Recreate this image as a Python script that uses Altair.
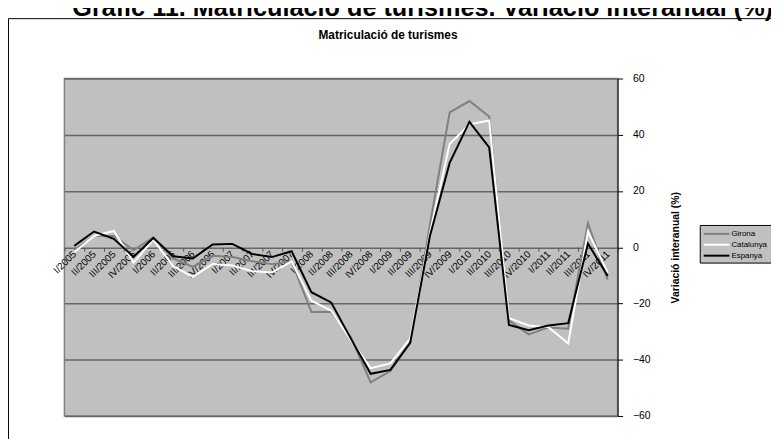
import altair as alt
import pandas as pd

quarters = ["I/2005", "II/2005", "III/2005", "IV/2005",
            "I/2006", "II/2006", "III/2006", "IV/2006",
            "I/2007", "II/2007", "III/2007", "IV/2007",
            "I/2008", "II/2008", "III/2008", "IV/2008",
            "I/2009", "II/2009", "III/2009", "IV/2009",
            "I/2010", "II/2010", "III/2010", "IV/2010",
            "I/2011", "II/2011", "III/2011", "IV/2011"]

girona = [-1, 4, 4, -1, 3.5, -4, -7, -3, -3.5, -5, -6, -5,
          -23, -23, -32, -48, -44, -34, 8, 48, 52, 46.5,
          -26, -31, -28.5, -29, 8.5, -11.5]
catalunya = [-1.8, 4, 5.8, -5.5, 2.7, -6.7, -10.5, -6, -6.5, -8.5, -9, -5,
             -19, -22.5, -33, -43, -41.3, -32.5, 5, 36.7, 43.7, 45.1,
             -25.2, -27.8, -28.4, -34.2, 5.6, -9]
espanya = [0.5, 5.6, 3, -3.4, 3.3, -3.2, -4, 1, 1.2, -2.4, -3.5, -1.4,
           -16, -19.6, -32.5, -45, -43.6, -34, 4, 30, 44.6, 35.5,
           -27.6, -29.5, -27.8, -27, 1.3, -10.2]

series = ["Girona", "Catalunya", "Espanya"]
colors = ["#808080", "#ffffff", "#000000"]
y_ticks = [-60, -40, -20, 0, 20, 40, 60]

main_title = "Gràfic 11. Matriculació de turismes. Variació interanual (%)"
inner_title = "Matriculació de turismes"
y_title = "Variació interanual (%)"

rows = []
for name, vals in zip(series, [girona, catalunya, espanya]):
    for q, v in zip(quarters, vals):
        rows.append({"q": q, "v": v, "s": name, "order": series.index(name)})
df = pd.DataFrame(rows)

FONT = "Liberation Sans"
W, H = 559, 341

lines = alt.Chart(df).mark_line(strokeWidth=2).encode(
    x=alt.X("q:N", sort=quarters, bandPosition=0.5,
            scale=alt.Scale(type="band", paddingInner=0, paddingOuter=0),
            axis=alt.Axis(orient="bottom", offset=-H / 2, domain=False,
                          ticks=True, tickBand="extent", tickColor="#555555",
                          tickSize=4, tickWidth=1, labelAngle=-45,
                          labelAlign="right", labelBaseline="middle",
                          labelFontSize=10, labelPadding=1, labelOverlap=False,
                          labelColor="black", labelFont=FONT, grid=False,
                          title=None)),
    y=alt.Y("v:Q", scale=alt.Scale(domain=[-60, 60], nice=False, zero=False),
            axis=alt.Axis(orient="right", values=y_ticks, grid=True,
                          gridColor="#666666", gridWidth=1.5,
                          domainColor="black", domainWidth=1,
                          tickColor="black", tickSize=5, labelFontSize=10.5,
                          labelPadding=10, labelColor="black", labelFont=FONT,
                          title=y_title, titleFontSize=10.5, titleFont=FONT,
                          titleFontWeight="bold", titleAngle=270,
                          titleColor="black", titlePadding=31)),
    color=alt.Color("s:N", scale=alt.Scale(domain=series, range=colors),
                    legend=alt.Legend(orient="none", legendX=642, legendY=148,
                                      title=None, symbolType="M-1,0H4.2",
                                      symbolSize=100, symbolStrokeWidth=2,
                                      fillColor="#c0c0c0", strokeColor="black",
                                      padding=3, labelFontSize=8, labelFont=FONT,
                                      labelColor="black", labelOffset=17,
                                      rowPadding=1)),
    order=alt.Order("order:Q"),
)

one = pd.DataFrame({"t": [main_title]})
box = alt.Chart(one).mark_rect(filled=False, stroke="black", strokeWidth=1).encode(
    x=alt.value(-56.5), x2=alt.value(720), y=alt.value(-60.5), y2=alt.value(370)
)
big = alt.Chart(one).mark_text(font=FONT, fontSize=25.5, fontWeight="bold",
                               baseline="alphabetic", align="center",
                               color="black").encode(
    text="t:N", x=alt.value(362), y=alt.value(-63)
)
inner = alt.Chart(pd.DataFrame({"t": [inner_title]})).mark_text(
    font=FONT, fontSize=12, fontWeight="bold", baseline="middle",
    align="center", color="black").encode(
    text="t:N", x=alt.value(327), y=alt.value(-44)
)

chart = alt.layer(box, lines, big, inner).properties(
    width=W, height=H, autosize="none", background="white",
    padding={"left": 57, "top": 69, "right": 155, "bottom": 21},
).configure_view(fill="#c0c0c0", stroke="#808080", strokeWidth=1.5)

chart.save("out.html", embed_options={"renderer": "svg", "actions": False})
